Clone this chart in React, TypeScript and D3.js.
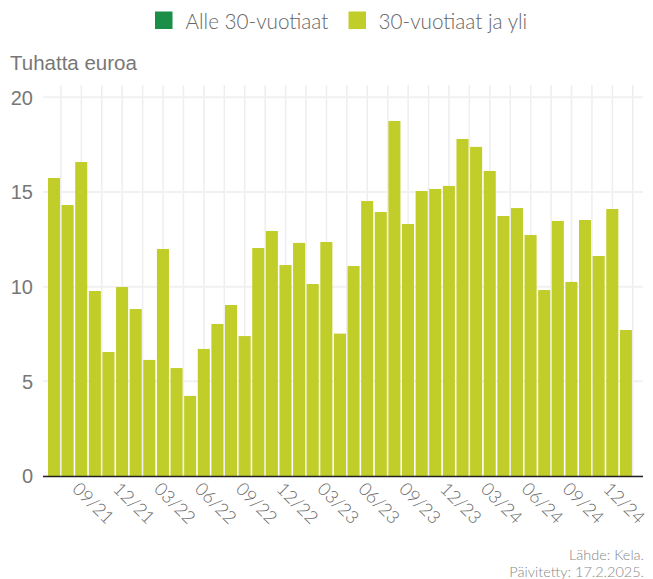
import React from "react";
import * as d3 from "d3";

const months: string[] = [
  "07/21","08/21","09/21","10/21","11/21","12/21",
  "01/22","02/22","03/22","04/22","05/22","06/22","07/22","08/22","09/22","10/22","11/22","12/22",
  "01/23","02/23","03/23","04/23","05/23","06/23","07/23","08/23","09/23","10/23","11/23","12/23",
  "01/24","02/24","03/24","04/24","05/24","06/24","07/24","08/24","09/24","10/24","11/24","12/24",
  "01/25",
];
const over30: number[] = [
  15.74, 14.31, 16.58, 9.77, 6.55, 9.98,
  8.82, 6.13, 11.99, 5.70, 4.23, 6.71, 8.03, 9.03, 7.39, 12.04, 12.94, 11.14,
  12.31, 10.14, 12.36, 7.52, 11.09, 14.52, 13.94, 18.75, 13.31, 15.05, 15.16, 15.32,
  17.80, 17.38, 16.11, 13.73, 14.15, 12.73, 9.82, 13.47, 10.25, 13.52, 11.62, 14.10,
  7.71,
];
const tickLabels: string[] = ["09/21","12/21","03/22","06/22","09/22","12/22","03/23","06/23","09/23","12/23","03/24","06/24","09/24","12/24"];
const yTicks: number[] = [0, 5, 10, 15, 20];
const legendItems: string[] = ["Alle 30-vuotiaat", "30-vuotiaat ja yli"];
const legendColors: string[] = ["#1b8e47", "#c1cd29"];

export default function App() {
  const W = 653, H = 579;
  const x = d3.scaleBand<string>().domain(months).range([47.3, 632.6]).paddingInner(0.115).paddingOuter(0.05);
  const y = d3.scaleLinear().domain([0, 20]).range([476, 97.3]);
  const step = x.step();
  const left = x.range()[0];
  const gridXs: number[] = d3.range(0, 29).map((k) => left + step * (1 + 1.5 * k));
  const labelFont = "Lato, 'Open Sans', sans-serif";
  return (
    <svg width={W} height={H} style={{ position: "absolute", left: 0, top: 0 }}>
      <rect x={0} y={0} width={W} height={H} fill="#ffffff" />
      {/* legend */}
      <g>
        <rect x={155} y={11.5} width={17.5} height={17.5} fill={legendColors[0]} />
        <text x={185.5} y={28.5} fontFamily={labelFont} fontWeight={300} fontSize={20.7} fill="#666">{legendItems[0]}</text>
        <rect x={348.5} y={11.5} width={17.5} height={17.5} fill={legendColors[1]} />
        <text x={378.5} y={28.5} fontFamily={labelFont} fontWeight={300} fontSize={20.7} fill="#666">{legendItems[1]}</text>
      </g>
      <text x={10} y={70} fontFamily="'Liberation Sans', Arial, sans-serif" fontSize={20.5} fill="#777">Tuhatta euroa</text>
      {/* grid */}
      {gridXs.map((gx, i) => (
        <line key={"gx" + i} x1={gx} x2={gx} y1={85} y2={476} stroke="#eeeeee" strokeWidth={1.5} />
      ))}
      {yTicks.map((t) => (
        <line key={"gy" + t} x1={43} x2={643} y1={y(t)} y2={y(t)} stroke="#f1f1f1" strokeWidth={2} />
      ))}
      {yTicks.map((t) => (
        <text key={"yl" + t} x={33} y={y(t)} dy="0.36em" textAnchor="end" fontFamily="'Liberation Sans', Arial, sans-serif" fontSize={20} fill="#777">{t}</text>
      ))}
      {/* bars */}
      {months.map((m, i) => (
        <rect key={m} x={x(m)} y={y(over30[i])} width={x.bandwidth()} height={y(0) - y(over30[i])} fill={legendColors[1]} />
      ))}
      <line x1={43} x2={643} y1={476.5} y2={476.5} stroke="#222" strokeWidth={1.5} />
      {tickLabels.map((lbl) => {
        const cx = (x(lbl) as number) + x.bandwidth() / 2 - 10;
        return (
          <text key={"xl" + lbl} transform={`translate(${cx},490) rotate(45)`} fontFamily={labelFont} fontWeight={300} fontSize={18} fill="#6a6a6a">{lbl}</text>
        );
      })}
      <text x={644} y={559.5} textAnchor="end" fontFamily={labelFont} fontWeight={300} fontSize={14.5} fill="#888">Lähde: Kela.</text>
      <text x={644} y={577} textAnchor="end" fontFamily={labelFont} fontWeight={300} fontSize={14.5} fill="#888">Päivitetty: 17.2.2025.</text>
    </svg>
  );
}
